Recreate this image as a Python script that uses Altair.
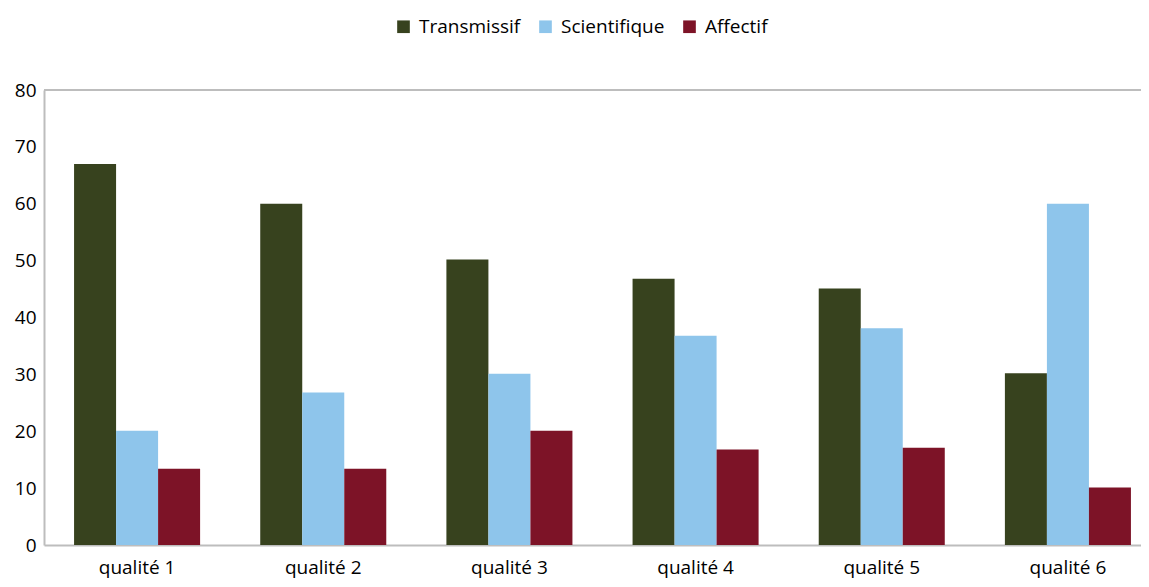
import altair as alt
import pandas as pd

categories = ["qualité 1", "qualité 2", "qualité 3", "qualité 4", "qualité 5", "qualité 6"]
series = ["Transmissif", "Scientifique", "Affectif"]
transmissif = [67, 60, 50.2, 46.8, 45.1, 30.2]
scientifique = [20.1, 26.8, 30.1, 36.8, 38.1, 60]
affectif = [13.4, 13.4, 20.1, 16.8, 17.1, 10.1]
colors = ["#37421E", "#8EC5EB", "#7D1327"]

rows = []
for i, c in enumerate(categories):
    for s, vals in zip(series, [transmissif, scientifique, affectif]):
        rows.append({"cat": c, "series": s, "value": vals[i]})
df = pd.DataFrame(rows)

FONT = "Open Sans"
W, H = 1097, 455

bars = alt.Chart(df).mark_bar().encode(
    x=alt.X("cat:N", sort=categories, title=None,
            scale=alt.Scale(range=[0, 1117], paddingInner=0.323, paddingOuter=0.1615),
            axis=alt.Axis(labelAngle=0, ticks=False, domainColor="#BDBDBD", domainWidth=2,
                          labelFontSize=19, labelFont=FONT, labelColor="#000000", labelPadding=13)),
    xOffset=alt.XOffset("series:N", sort=series),
    y=alt.Y("value:Q", title=None,
            scale=alt.Scale(domain=[0, 80], nice=False),
            axis=alt.Axis(values=[0, 10, 20, 30, 40, 50, 60, 70, 80], grid=False, ticks=False,
                          domainColor="#BDBDBD", domainWidth=2, labelFontSize=19, labelFont=FONT,
                          labelColor="#000000", labelPadding=8)),
    color=alt.Color("series:N", sort=series,
                    scale=alt.Scale(domain=series, range=colors),
                    legend=alt.Legend(title=None, orient="none", direction="horizontal",
                                      legendX=350, legendY=-73, symbolType="square",
                                      symbolSize=160, symbolStrokeWidth=0, labelFontSize=19,
                                      labelFont=FONT, labelColor="#000000", columnPadding=15,
                                      labelOffset=6)),
)

top = alt.Chart(pd.DataFrame({"v": [80]})).mark_rule(color="#BDBDBD", strokeWidth=2).encode(
    y=alt.Y("v:Q", scale=alt.Scale(domain=[0, 80], nice=False)),
    x=alt.value(0), x2=alt.value(1117),
)

chart = alt.layer(bars, top).properties(
    width=W, height=H,
    autosize=alt.AutoSizeParams(type="none"),
    padding={"left": 36, "top": 82, "right": 0, "bottom": 34},
    background="white",
).configure_view(stroke=None)

chart.save("out.html", embed_options={"renderer": "svg", "actions": False})
